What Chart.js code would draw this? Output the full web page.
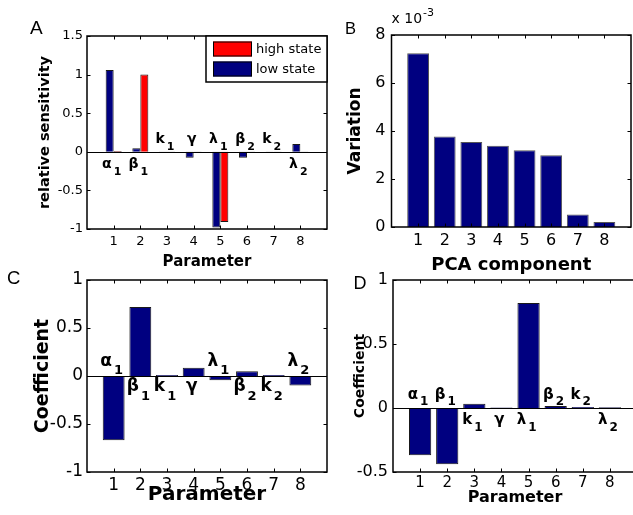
<!DOCTYPE html>
<html>
<head>
<meta charset="utf-8">
<script src="https://cdn.jsdelivr.net/npm/chart.js@4.4.0/dist/chart.umd.min.js"></script>
<style>
html, body { margin: 0; padding: 0; background: #fff; width: 633px; height: 515px; overflow: hidden; }
canvas { position: absolute; left: 0; top: 0; }
.tag { position: absolute; font-family: "Liberation Sans", Arial, sans-serif; line-height: 1; color: #000; }
</style>
</head>
<body>
<canvas id="chartA" width="645" height="515"></canvas>
<canvas id="chartB" width="645" height="515"></canvas>
<canvas id="chartC" width="645" height="515"></canvas>
<canvas id="chartD" width="645" height="515"></canvas>
<div class="tag" style="left:30px;top:18px;font-size:19px">A</div>
<div class="tag" style="left:345px;top:19.5px;font-size:16.5px">B</div>
<div class="tag" style="left:7px;top:269px;font-size:18.5px">C</div>
<div class="tag" style="left:353.5px;top:273.5px;font-size:18px">D</div>
<script>
// data
const categories = ['1', '2', '3', '4', '5', '6', '7', '8'];
const paramSymbols = ['α', 'β', 'k', 'γ', 'λ', 'β', 'k', 'λ'];
const paramSubs = ['1', '1', '1', '', '1', '2', '2', '2'];

const sensLow = [1.06, 0.045, 0.004, -0.077, -0.98, -0.077, 0.004, 0.10];
const sensHigh = [0.01, 1.0, 0.004, 0.004, -0.91, 0.004, 0.004, 0.004];
const pcaVariation = [7.24, 3.77, 3.54, 3.39, 3.2, 2.99, 0.52, 0.21]; // x 10^-3
const coefC = [-0.67, 0.72, 0.01, 0.085, -0.045, 0.05, 0.01, -0.1];
const coefD = [-0.37, -0.44, 0.034, 0.004, 0.82, 0.015, 0.008, 0.005];

const ticksA = [-1, -0.5, 0, 0.5, 1, 1.5];
const ticksB = [0, 2, 4, 6, 8];
const ticksC = [-1, -0.5, 0, 0.5, 1];
const ticksD = [-0.5, 0, 0.5, 1];

const FONT = '"DejaVu Sans", sans-serif';
const W = 645, H = 515;
const navy = '#000080';

const pad = v => [null, ...v, null];

// matlab style box, inward ticks, zero line, parameter labels, legend
const frame = {
    id: 'frame',
    afterDatasetsDraw(chart, args, o) {
        const {ctx, chartArea: a, scales: {x, y}} = chart;
        ctx.save();
        ctx.strokeStyle = '#000';
        ctx.fillStyle = '#000';
        if (o.zeroLine) {
            const y0 = Math.round(y.getPixelForValue(0)) + 0.5;
            ctx.lineWidth = 1;
            ctx.beginPath(); ctx.moveTo(a.left, y0); ctx.lineTo(a.right, y0); ctx.stroke();
        }
        ctx.lineWidth = 1;
        ctx.beginPath();
        categories.forEach((c, i) => {
            const px = Math.round(x.getPixelForValue(i + 1)) + 0.5;
            ctx.moveTo(px, a.top); ctx.lineTo(px, a.top + 3.5);
            ctx.moveTo(px, a.bottom); ctx.lineTo(px, a.bottom - 3.5);
        });
        y.ticks.forEach(t => {
            const py = Math.round(y.getPixelForValue(t.value)) + 0.5;
            ctx.moveTo(a.left, py); ctx.lineTo(a.left + 3.5, py);
            ctx.moveTo(a.right, py); ctx.lineTo(a.right - 3.5, py);
        });
        ctx.stroke();
        ctx.lineWidth = 1.5;
        ctx.strokeRect(a.left, a.top, a.right - a.left, a.bottom - a.top);

        if (o.sides) {
            const y0 = y.getPixelForValue(0);
            const lf = 'bold ' + o.labelSize + 'px ' + FONT;
            const sf = 'bold ' + o.subSize + 'px ' + FONT;
            ctx.textAlign = 'left';
            ctx.textBaseline = 'alphabetic';
            paramSymbols.forEach((sym, i) => {
                const px = x.getPixelForValue(i + 1);
                ctx.font = lf;
                const w1 = ctx.measureText(sym).width;
                ctx.font = sf;
                const w2 = paramSubs[i] ? ctx.measureText(paramSubs[i]).width + 2 : 0;
                const x0 = px - 2 - (w1 + w2) / 2;
                const off = o.sides[i] > 0 ? o.above : o.below;
                ctx.font = lf;
                ctx.fillText(sym, x0, y0 + off[0]);
                if (paramSubs[i]) {
                    ctx.font = sf;
                    ctx.fillText(paramSubs[i], x0 + w1 + 2, y0 + off[1]);
                }
            });
        }

        if (o.legend) {
            const bw = 121, bh = 46;
            const bx = a.right - bw, by = a.top;
            ctx.fillStyle = '#fff';
            ctx.fillRect(bx, by, bw, bh);
            ctx.lineWidth = 1.5;
            ctx.strokeRect(bx, by, bw, bh);
            const items = chart.data.datasets.slice().reverse();
            ctx.font = '13px ' + FONT;
            ctx.textBaseline = 'middle';
            ctx.textAlign = 'left';
            items.forEach((ds, k) => {
                const sy = by + 5.5 + k * 20;
                ctx.fillStyle = ds.backgroundColor;
                ctx.fillRect(bx + 7, sy, 39, 15);
                ctx.lineWidth = 1;
                ctx.strokeRect(bx + 7.5, sy + 0.5, 38, 14);
                ctx.fillStyle = '#000';
                ctx.fillText(ds.label, bx + 50, sy + 8);
            });
        }

        if (o.exponent) {
            ctx.textAlign = 'left';
            ctx.textBaseline = 'alphabetic';
            ctx.font = '14px ' + FONT;
            const base = 'x 10';
            ctx.fillText(base, a.left, a.top - 12);
            const bw = ctx.measureText(base).width;
            ctx.font = '11px ' + FONT;
            ctx.fillText(o.exponent, a.left + bw + 1, a.top - 19);
        }
        ctx.restore();
    }
};

function panel(id, box, datasets, o) {
    return new Chart(document.getElementById(id), {
        type: 'bar',
        data: {labels: ['', ...categories, ''], datasets},
        options: {
            responsive: false,
            animation: false,
            layout: {padding: {left: 0, top: box[1], right: W - box[2], bottom: 0}},
            datasets: {bar: {categoryPercentage: o.cat, barPercentage: 1, borderWidth: 1, borderColor: '#1a1a1a'}},
            plugins: {legend: {display: false}, tooltip: {enabled: false}, frame: o.frame},
            scales: {
                x: {
                    offset: false,
                    grid: {display: false, drawTicks: false},
                    border: {display: false},
                    ticks: {autoSkip: false, maxRotation: 0, padding: o.xPad, color: '#000',
                            font: {family: FONT, size: o.tickSize}},
                    title: {display: true, text: o.xTitle, color: '#000',
                            font: {family: FONT, size: o.xTitleSize, weight: 'bold'},
                            padding: {top: 0, bottom: o.xTitlePad}},
                    afterFit: s => { s.height = H - box[3]; }
                },
                y: {
                    min: o.yTicks[0],
                    max: o.yTicks[o.yTicks.length - 1],
                    grid: {display: false, drawTicks: false},
                    border: {display: false},
                    afterBuildTicks: s => { s.ticks = o.yTicks.map(v => ({value: v})); },
                    ticks: {padding: o.yPad, color: '#000', font: {family: FONT, size: o.yTickSize || o.tickSize},
                            callback: v => String(v)},
                    title: {display: true, text: o.yTitle, color: '#000',
                            font: {family: FONT, size: o.yTitleSize, weight: 'bold'},
                            padding: {top: o.yTitlePad, bottom: 0}},
                    afterFit: s => { s.width = box[0]; }
                }
            }
        },
        plugins: [frame]
    });
}

// A: relative sensitivity
panel('chartA', [87, 36, 327, 229], [
    {label: 'low state', data: pad(sensLow), backgroundColor: navy},
    {label: 'high state', data: pad(sensHigh), backgroundColor: '#ff0000'}
], {
    cat: 0.6, yTicks: ticksA, tickSize: 13, xPad: 5, yPad: 4,
    xTitle: 'Parameter', xTitleSize: 15, xTitlePad: 244,
    yTitle: 'relative sensitivity', yTitleSize: 14.5, yTitlePad: 36.5,
    frame: {zeroLine: true, legend: true, sides: [-1, -1, 1, 1, 1, 1, 1, -1],
            labelSize: 14, subSize: 11, above: [-9, -2], below: [16, 23]}
});

// B: PCA variation
panel('chartB', [391.5, 35, 631, 227], [
    {label: 'Variation', data: pad(pcaVariation), backgroundColor: navy, borderColor: '#555'}
], {
    cat: 0.82, yTicks: ticksB, tickSize: 16, xPad: 4.4, yPad: 6,
    xTitle: 'PCA component', xTitleSize: 18, xTitlePad: 239,
    yTitle: 'Variation', yTitleSize: 17, yTitlePad: 345,
    frame: {exponent: '-3'}
});

// C: coefficients, component 1
panel('chartC', [87, 280, 327, 472], [
    {label: 'Coefficient', data: pad(coefC), backgroundColor: navy}
], {
    cat: 0.82, yTicks: ticksC, tickSize: 17, xPad: 3, yPad: 4,
    xTitle: 'Parameter', xTitleSize: 20, xTitlePad: 8,
    yTitle: 'Coefficient', yTitleSize: 19, yTitlePad: 31.6,
    frame: {zeroLine: true, sides: [1, -1, -1, -1, 1, -1, -1, 1],
            labelSize: 17, subSize: 13, above: [-10, -2], below: [15, 24]}
});

// D: coefficients, component 2
panel('chartD', [393, 280, 637, 472], [
    {label: 'Coefficient', data: pad(coefD), backgroundColor: navy}
], {
    cat: 0.82, yTicks: ticksD, tickSize: 15, yTickSize: 16, xPad: 2, yPad: 5,
    xTitle: 'Parameter', xTitleSize: 16, xTitlePad: 7.4,
    yTitle: 'Coefficient', yTitleSize: 14, yTitlePad: 351.6,
    frame: {zeroLine: true, sides: [1, 1, -1, -1, -1, 1, 1, -1],
            labelSize: 15, subSize: 12, above: [-9, -3], below: [16, 23]}
});
</script>
</body>
</html>
